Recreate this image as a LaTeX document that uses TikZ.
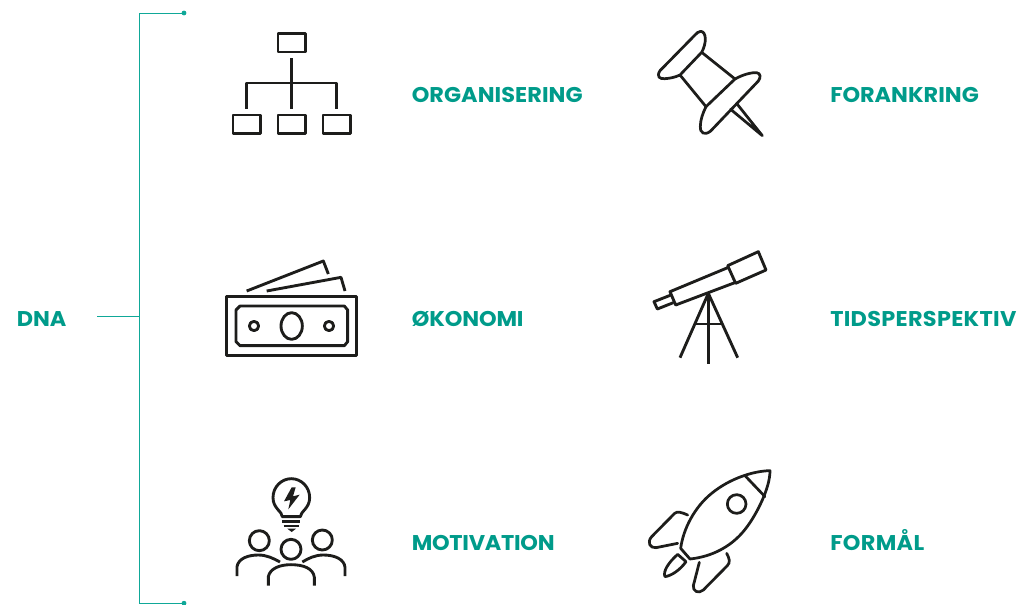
\documentclass[tikz,border=0pt]{standalone}
\usepackage{fontspec}
\setmainfont{Poppins}[BoldFont={Poppins Bold},BoldFeatures={FakeStretch=1.05}]
\definecolor{tealtext}{HTML}{009B8A}
\definecolor{tealline}{HTML}{0FA898}
\definecolor{ink}{HTML}{1D1D1B}
\tikzset{
  lbl/.style={anchor=base west,inner sep=0pt,text=tealtext,font=\fontsize{16pt}{18pt}\bfseries},
  icon/.style={draw=ink,line width=2.15pt,line join=round,line cap=butt,fill=none},
  iconr/.style={icon,line width=2.05pt,line cap=round},
  bracket/.style={draw=tealline,line width=0.75pt},
  zoomed/.style={x=0.25pt,y=-0.25pt}
}
\begin{document}
\begin{tikzpicture}[x=0.75pt,y=-0.75pt]
\useasboundingbox (0,0) rectangle (1032,604);
% labels
\node[lbl] (dna) at (16.5,326) {DNA};
\node[lbl] (org) at (411.5,102) {\addfontfeature{LetterSpace=0.3}ORGANISERING};
\node[lbl] (oko) at (411.5,326) {\addfontfeature{LetterSpace=-0.5}ØKONOMI};
\node[lbl] (mot) at (411.5,550) {\addfontfeature{LetterSpace=-1.2}MOTIVATION};
\node[lbl] (for) at (830,102) {FORANKRING};
\node[lbl] (tid) at (830,326) {\addfontfeature{LetterSpace=1.4}TIDSPERSPEKTIV};
\node[lbl] (fom) at (830,550) {\addfontfeature{LetterSpace=1.7}FORMÅL};
% bracket
\coordinate (s) at (97,316.5);
\coordinate (j) at (139,316.5);
\coordinate (t) at (139,13);
\coordinate (b) at (139,603.2);
\coordinate (te) at (184,13);
\coordinate (be) at (184,603.2);
\draw[bracket] (s) -- (j);
\draw[bracket] (te) -- (t) -- (b) -- (be);
\fill[tealline] (te) circle (2.4);
\fill[tealline] (be) circle (2.4);
% organisation
\begin{scope}[shift={(210,20)},zoomed]
\draw[icon] (204,41) rectangle (286,96);
\draw[icon] (69,285) rectangle (151,340);
\draw[icon] (204,285) rectangle (286,340);
\draw[icon] (339,285) rectangle (421,340);
\draw[icon] (244,114) -- (244,266);
\draw[icon] (109,266) -- (109,189) -- (379,189) -- (379,266);
\end{scope}
% pin
\begin{scope}[shift={(640,20)},zoomed]
\draw[iconr] (120,165) -- (185,97) .. controls (200,70) and (200,35) .. (182,34)
  .. controls (175,34) and (170,40) .. (165,45) -- (60,152) .. controls (48,170) and (60,178) .. (75,176)
  .. controls (90,175) and (105,172) .. (120,165) -- (198,260) -- (285,177) -- (185,97);
\draw[iconr] (285,177) .. controls (310,163) and (335,157) .. (350,158) .. controls (362,160) and (363,172) .. (355,183)
  -- (212,333) .. controls (195,347) and (180,340) .. (181,320) .. controls (181,300) and (188,280) .. (198,260);
\draw[iconr] (272,268) -- (367,347) -- (292,253);
\end{scope}
% money
\begin{scope}[shift={(215,250)},zoomed]
\draw[icon] (35,140) rectangle (424,316);
\draw[icon] (75,168) -- (388,168) -- (398,180) -- (398,275) -- (388,287) -- (75,287) -- (63,275) -- (63,180) -- cycle;
\draw[icon] (117,228) circle (14);
\draw[icon] (342,228) circle (14);
\draw[icon] (230,228) ellipse (32 and 40);
\draw[icon] (95,123) -- (325,33) -- (340,72);
\draw[icon] (155,123) -- (378,82) -- (390,123);
\end{scope}
% telescope
\begin{scope}[shift={(645,245)},zoomed]
\draw[icon] (248,62) -- (340,20) -- (363,75) -- (272,115) -- cycle;
\draw[icon] (248,68) -- (75,140) -- (92,180) -- (272,112);
\draw[icon] (78,150) -- (27,170) -- (37,192) -- (85,173);
\draw[icon] (190,145) -- (105,338);
\draw[icon] (190,145) -- (278,338);
\draw[icon] (190,145) -- (190,357);
\draw[icon] (150,237) -- (230,237);
\end{scope}
% idea
\begin{scope}[shift={(225,470)},zoomed]
\draw[icon] (172,140) .. controls (172,125) and (144,115) .. (144,83)
  .. controls (144,50) and (170,26) .. (199,26)
  .. controls (228,26) and (254,50) .. (254,83)
  .. controls (254,115) and (226,125) .. (226,140) -- cycle;
\draw[icon] (172,155) -- (226,155);
\draw[icon] (176,168) -- (222,168);
\fill[ink] (187,176) -- (213,176) -- (200,186) -- cycle;
\fill[ink] (200,52) -- (177,94) -- (196,90) -- (190,118) -- (224,74) -- (204,79) -- (212,52) -- cycle;
\draw[icon] (103,212) circle (30);
\draw[icon] (198,238) circle (30);
\draw[icon] (292,210) circle (30);
\draw[icon] (36,318) -- (36,290) .. controls (40,265) and (70,255) .. (100,255) .. controls (125,255) and (145,265) .. (165,276);
\draw[icon] (130,347) -- (130,320) .. controls (135,295) and (165,284) .. (198,284) .. controls (235,284) and (265,295) .. (268,322) -- (268,347);
\draw[icon] (232,276) .. controls (250,265) and (270,255) .. (295,255) .. controls (330,255) and (358,268) .. (360,292) -- (360,318);
\end{scope}
% rocket
\begin{scope}[shift={(640,465)},zoomed]
\draw[iconr] (122,250) -- (150,282) .. controls (215,275) and (280,245) .. (325,180)
  .. controls (350,145) and (390,70) .. (390,17)
  .. controls (340,18) and (270,40) .. (215,85)
  .. controls (165,125) and (130,190) .. (122,250) -- cycle;
\draw[iconr] (315,32) -- (375,95);
\draw[iconr] (290,117) circle (28);
\draw[iconr] (143,150) .. controls (125,142) and (112,138) .. (104,145) -- (35,215) .. controls (20,232) and (30,250) .. (48,248) -- (113,235);
\draw[iconr] (260,265) .. controls (268,280) and (272,292) .. (262,302) -- (190,375) .. controls (175,388) and (158,378) .. (160,362) -- (178,292);
\draw[iconr] (113,268) -- (138,290) .. controls (120,315) and (95,332) .. (75,335) .. controls (68,320) and (85,293) .. (113,268) -- cycle;
\end{scope}
\end{tikzpicture}
\end{document}
